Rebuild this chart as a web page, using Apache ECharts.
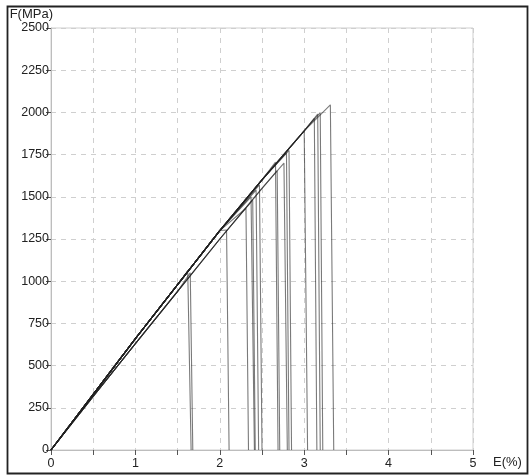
<!DOCTYPE html>
<html><head><meta charset="utf-8">
<script src="https://cdn.jsdelivr.net/npm/echarts@6/dist/echarts.min.js"></script>
<style>html,body{margin:0;padding:0;background:#fff}#c{width:529px;height:476px}</style>
</head><body><div id="c"></div>
<script>
// Shared loading path (envelope): family A (dark bundle) and B (lighter, slightly lower)
const envStrainA = [0, 0.5, 1.0, 1.5, 2.0, 2.5, 3.0, 3.35];
const envStressA = [0, 330, 660, 980, 1300, 1600, 1890, 2070];
const envStrainB = [0, 0.5, 1.0, 1.5, 2.0, 2.5, 2.8];
const envStressB = [0, 318, 630, 940, 1250, 1550, 1725];
// Specimens: peak strain/stress, strain where stress drops to 0, loading family
const peakStrain  = [1.62, 1.65, 2.08, 2.31, 2.37, 2.39, 2.43, 2.47, 2.66, 2.68, 2.76, 2.79, 2.82, 3.01, 3.12, 3.16, 3.19, 3.31];
const peakStress  = [1062, 1050, 1303, 1432, 1500, 1480, 1540, 1570, 1705, 1655, 1700, 1760, 1775, 1880, 1965, 1990, 1998, 2045];
const breakStrain = [1.66, 1.68, 2.11, 2.34, 2.41, 2.42, 2.46, 2.50, 2.69, 2.71, 2.80, 2.82, 2.85, 3.04, 3.15, 3.19, 3.22, 3.35];
const family      = ['A','B','A','A','A','B','A','A','A','B','B','A','A','A','A','A','A','A'];
const xTicks = [0, 1, 2, 3, 4, 5];
const yTicks = [0, 250, 500, 750, 1000, 1250, 1500, 1750, 2000, 2250, 2500];

const series = peakStrain.map((pe, i) => {
  const es = family[i] === 'A' ? envStrainA : envStrainB;
  const ef = family[i] === 'A' ? envStressA : envStressB;
  const pts = [];
  for (let k = 0; k < es.length; k++) if (es[k] < pe) pts.push([es[k], ef[k]]);
  pts.push([pe, peakStress[i]]);
  pts.push([breakStrain[i], 0]);
  return {type:'line', data:pts, showSymbol:false, silent:true, animation:false,
    lineStyle:{color:'#222', width:1.1, opacity:0.6}};
});

const chart = echarts.init(document.getElementById('c'), null, {renderer:'canvas'});
const font = 'Liberation Sans, Arial, sans-serif';
chart.setOption({
  backgroundColor:'#fff',
  animation:false,
  graphic:[{type:'rect', left:5, top:4, shape:{width:520, height:467},
    style:{fill:'none', stroke:'#222', lineWidth:1.8}, z:-1}],
  grid:{left:51, top:28, right:56, bottom:26, show:true, borderColor:'#cfcfcf', borderWidth:1},
  xAxis:{type:'value', min:0, max:5, interval:0.5,
    name:'E(%)', nameLocation:'end', nameGap:20,
    nameTextStyle:{fontFamily:font, fontSize:13, color:'#222', verticalAlign:'top', padding:[6,0,0,0]},
    axisLine:{lineStyle:{color:'#bdbdbd'}},
    axisTick:{show:true, length:5, lineStyle:{color:'#555'}},
    axisLabel:{fontFamily:font, fontSize:12.5, color:'#222', margin:7,
      formatter:v => xTicks.indexOf(v) >= 0 ? String(v) : ''},
    splitLine:{lineStyle:{color:'#cfcfcf', type:[5,5]}}},
  yAxis:{type:'value', min:0, max:2500, interval:250,
    name:'F(MPa)', nameLocation:'end', nameGap:7,
    nameTextStyle:{fontFamily:font, fontSize:13, color:'#222', align:'right', padding:[0,-2,0,0]},
    axisLine:{show:true, lineStyle:{color:'#bdbdbd'}},
    axisTick:{show:true, length:5, lineStyle:{color:'#555'}},
    axisLabel:{fontFamily:font, fontSize:12.5, color:'#222', margin:2,
      formatter:v => yTicks.indexOf(v) >= 0 ? String(v) : ''},
    splitLine:{lineStyle:{color:'#cfcfcf', type:[5,5]}}},
  series:series
});
</script></body></html>
